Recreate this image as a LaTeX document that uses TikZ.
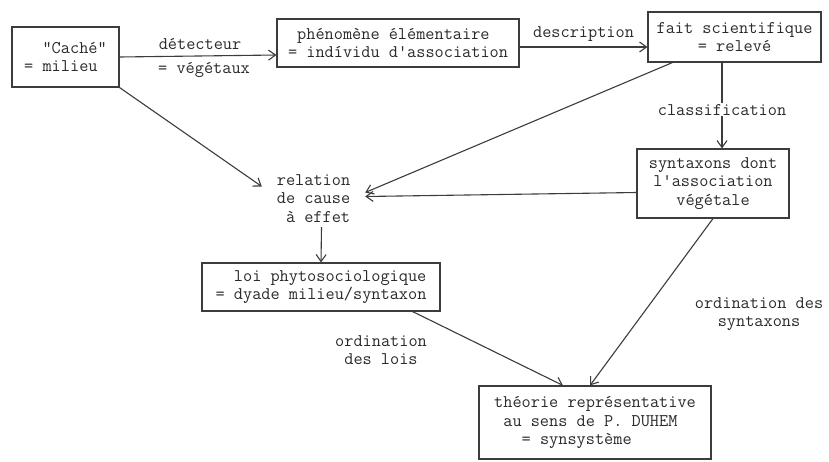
\documentclass[tikz,border=0pt]{standalone}
\usepackage{fontspec}
\usetikzlibrary{arrows.meta}
\definecolor{ln}{HTML}{3C3C3C}
\definecolor{txt}{HTML}{2A2A2A}
\begin{document}
\begin{tikzpicture}[x=1pt,y=-1pt,
  every node/.style={font=\ttfamily\fontsize{17.8}{18.5}\selectfont, text=txt},
  box/.style={draw=ln, line width=1.1pt, rectangle, inner sep=0pt},
  conn/.style={draw=ln, line width=1.1pt, -{Straight Barb[length=7pt,width=10pt]}},
  lbl/.style={inner sep=1pt}]
\useasboundingbox (0,0) rectangle (829,461);
\fill[white] (0,0) rectangle (829,461);

\node[box, minimum width=107pt, minimum height=60pt, align=left] (cache) at (65.5,57) {\hphantom{xx}"Caché"\\= milieu};
\node[box, minimum width=242pt, minimum height=48pt, align=left] (pheno) at (398,43) {\hphantom{x}phénomène élémentaire\\= indívidu d'association};
\node[box, minimum width=173pt, minimum height=50pt, align=center] (fait) at (734.5,37) {fait scientifique\\= relevé};
\node[box, minimum width=152pt, minimum height=69pt, align=center] (synt) at (713,183.5) {syntaxons dont\\l'association\\végétale};
\node[align=right, minimum width=103pt, minimum height=57pt, inner sep=0pt] (rel) at (313.5,198.5) {relation\\de cause\\à effet};
\node[box, minimum width=238pt, minimum height=48pt, align=right] (loi) at (321,287) {loi phytosociologique\\= dyade milieu/syntaxon};
\node[box, minimum width=232pt, minimum height=73pt, align=left] (theo) at (595,422.5) {théorie représentative\\\hphantom{x}au sens de P. DUHEM\\\hphantom{xxx}= synsystème};

\node[lbl, align=center] (ol) at (381,350) {ordination\\des lois};
\node[lbl, align=center] (os) at (759,314) {ordination des\\syntaxons};

\draw[conn] (cache.east) -- node[above=3pt, xshift=2pt]{détecteur} node[below=3pt, xshift=6pt]{= végétaux} ([yshift=-12pt]pheno.west);
\draw[conn] ([yshift=-4pt]pheno.east) -- node[above=2pt]{description} ([yshift=-10pt]fait.west);
\draw[conn] ([xshift=-12.5pt]fait.south) -- node[pos=0.55, fill=white, inner sep=1pt]{classification} ([xshift=9pt]synt.north);
\draw[conn] (cache.south east) -- ([yshift=12pt]rel.west);
\draw[conn] ([xshift=25pt]fait.south west) -- ([yshift=6pt]rel.east);
\draw[conn] ([yshift=-9pt]synt.west) -- ([yshift=2pt]rel.east);
\draw[conn] ([xshift=8pt]rel.south) -- (loi.north);
\draw[conn] ([xshift=-28pt]loi.south east) -- ([xshift=-32pt]theo.north);
\draw[conn] (synt.south) -- ([xshift=-5pt]theo.north);
\end{tikzpicture}
\end{document}
